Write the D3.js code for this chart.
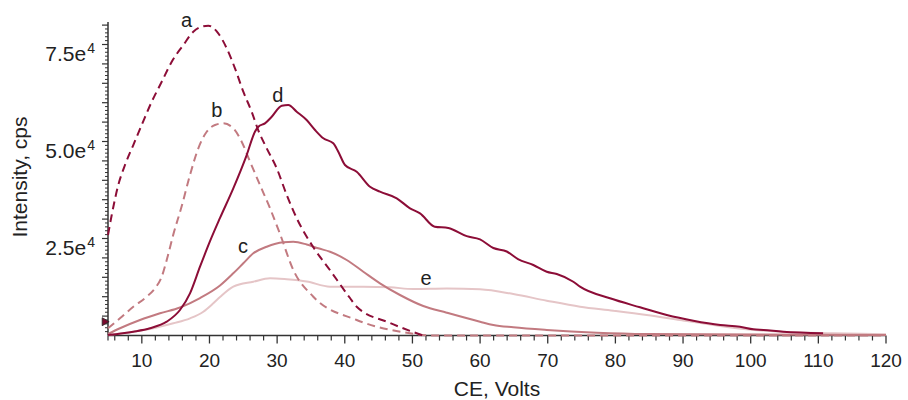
<!DOCTYPE html>
<html><head><meta charset="utf-8">
<script src="https://cdn.jsdelivr.net/npm/d3@7"></script>
<style>body{margin:0;background:#fff}svg{display:block}text{font-family:"Liberation Sans",Arial,Helvetica,sans-serif;fill:#222}</style>
</head><body><svg id="chart" width="908" height="400"></svg>
<script>
// CE (Volts) and Intensity (cps) pairs
const seriesA = [[5,25900],[5.55,31050],[6.52,38780],[7.51,43940],[8.74,49090],[9.98,54250],[11.46,60250],[12.94,65400],[14.42,70560],[16.13,74860],[17.61,78290],[18.85,79580],[19.83,79830],[21.3,77880],[22.55,74010],[23.77,68860],[25.0,62830],[26.24,57670],[27.2,52960],[28.46,48240],[29.94,43090],[31.42,36210],[32.9,30200],[35.3,22880],[37.8,16880],[40.77,9660],[41.76,7420],[46.7,3220],[51.56,0]];
const seriesB = [[5,1860],[6.77,4430],[8.74,7420],[10.72,10000],[11.95,12160],[12.94,15150],[13.68,19460],[14.65,26000],[15.89,33300],[17.12,41360],[18.35,48240],[19.59,52520],[20.82,54250],[22.04,54680],[23.52,53400],[24.76,49940],[26.0,44790],[27.47,38780],[28.95,32780],[30.43,26160],[32.39,16880],[35.35,10000],[41.76,3990],[49.64,570],[52.6,0],[120,0]];
const seriesC = [[5,390],[6.77,1860],[9.73,3990],[12.69,5720],[15.64,7220],[18.6,9660],[21.56,12890],[23.52,16030],[25.0,18610],[26.48,21180],[28.46,22880],[30.92,24020],[32.39,24150],[34.37,23450],[36.08,22470],[37.82,21600],[40.28,19460],[42.74,16440],[45.2,13450],[48.16,10440],[51.6,7600],[55.07,5880],[59.99,3560],[61.96,2710],[64.91,2110],[69.85,1420],[77.24,720],[84.63,390],[120,130]];
const seriesD = [[5,130],[8.74,980],[11.21,1860],[13.68,3560],[15.64,6570],[17.12,10870],[18.6,17730],[20.08,24300],[21.56,30300],[23.52,37930],[25.5,46510],[26.72,52520],[27.22,53810],[28.2,54680],[29.2,56380],[30.68,59220],[31.65,59400],[32.89,57670],[34.36,55530],[35.6,52960],[36.83,50820],[38.3,49530],[39.04,47370],[40.03,43940],[41.76,42210],[43.73,38350],[45.2,37060],[47.68,35360],[49.64,32780],[51.12,31490],[53.3,28040],[55.3,27700],[58.02,25600],[59.99,24790],[61.96,22550],[63.94,21650],[65.6,19710],[67.87,18170],[69.85,16440],[71.33,15850],[73.78,13860],[74.77,12580],[79.2,9590],[83.64,7270],[87.59,5280],[91.52,3810],[95.5,2710],[98.4,2270],[100.4,1600],[101.9,1420],[104.8,980],[110.7,570]];
const seriesE = [[5,130],[8.74,980],[11.7,1860],[14.65,3140],[17.12,4430],[19.09,6130],[20.57,8300],[21.56,9900],[23.52,12580],[26.48,13860],[28.95,14740],[31.42,14480],[34.37,13920],[37.82,12580],[42.74,12580],[46.69,12420],[50.13,11980],[55.07,12110],[59.99,11910],[64.91,10690],[69.85,8970],[74.77,7420],[79.7,6390],[84.63,5280],[89.55,3990],[94.47,2710],[99.4,1600],[104.3,980],[112.2,570],[120,310]];
const seriesNames = ["a","b","c","d","e"];
const labelPos = [[16.63,79500],[21.1,56300],[24.96,21260],[30.1,60260],[52.0,13010]];
const xTickValues = [10,20,30,40,50,60,70,80,90,100,110,120];
const yTickValues = [25000,50000,75000];
const yTickLabels = [["2.5e","4"],["5.0e","4"],["7.5e","4"]];
const markerPoint = [5,3560];

const dark = "#8c0d37", mid = "#c27a80", light = "#e5c5c7";
const styles = [
  {data: seriesE, color: light, dash: null},
  {data: seriesC, color: mid, dash: null},
  {data: seriesB, color: mid, dash: "8,5"},
  {data: seriesD, color: dark, dash: null},
  {data: seriesA, color: dark, dash: "8,5"}
];

const svg = d3.select("#chart");
const x = d3.scaleLinear().domain([5,120]).range([108,886]);
const y = d3.scaleLinear().domain([0,80800]).range([335.5,22]);

const axisColor = "#333";
const g = svg.append("g");
// x axis
g.append("line").attr("x1",x(5)).attr("x2",x(120)).attr("y1",y(0)).attr("y2",y(0)).attr("stroke",axisColor).attr("stroke-width",1.5);
const xMinor = d3.range(6,121,2).filter(v=>v%10!==0).concat([5]);
g.selectAll(".xmin").data(xMinor).join("line").attr("x1",d=>x(d)).attr("x2",d=>x(d)).attr("y1",y(0)).attr("y2",y(0)+5).attr("stroke",axisColor).attr("stroke-width",1.2);
g.selectAll(".xmaj").data(xTickValues).join("line").attr("x1",d=>x(d)).attr("x2",d=>x(d)).attr("y1",y(0)).attr("y2",y(0)+8).attr("stroke",axisColor).attr("stroke-width",1.3);
g.selectAll(".xlab").data(xTickValues).join("text").attr("x",d=>x(d)).attr("y",367).attr("text-anchor","middle").style("font-size","19px").text(d=>d);
// y axis
g.append("line").attr("x1",x(5)).attr("x2",x(5)).attr("y1",y(0)).attr("y2",22).attr("stroke",axisColor).attr("stroke-width",1.5);
const yMinor = d3.range(1000,80001,1000).filter(v=>v%5000!==0);
const yMajor = d3.range(5000,80001,5000);
g.selectAll(".ymin").data(yMinor).join("line").attr("x1",x(5)-3).attr("x2",x(5)).attr("y1",d=>y(d)).attr("y2",d=>y(d)).attr("stroke",axisColor).attr("stroke-width",1);
g.selectAll(".ymaj").data(yMajor).join("line").attr("x1",x(5)-6).attr("x2",x(5)).attr("y1",d=>y(d)).attr("y2",d=>y(d)).attr("stroke",axisColor).attr("stroke-width",1.2);
const yl = g.selectAll(".ylab").data(yTickValues).join("text").attr("x",95).attr("y",d=>y(d)+16).attr("text-anchor","end").style("font-size","21px");
yl.append("tspan").text((d,i)=>yTickLabels[i][0]);
yl.append("tspan").attr("dy",-8).attr("dx",1).style("font-size","14px").text((d,i)=>yTickLabels[i][1]);

// titles
svg.append("text").attr("x",497).attr("y",396).attr("text-anchor","middle").style("font-size","21px").text("CE, Volts");
svg.append("text").attr("transform","translate(27,177) rotate(-90)").attr("text-anchor","middle").style("font-size","21px").text("Intensity, cps");

// lines
const line = d3.line().x(d=>x(d[0])).y(d=>y(d[1])).curve(d3.curveMonotoneX);
styles.forEach(s=>{
  svg.append("path").attr("d",line(s.data)).attr("fill","none").attr("stroke",s.color).attr("stroke-width",2).attr("stroke-dasharray",s.dash);
});

// series labels
svg.selectAll(".slab").data(seriesNames).join("text").attr("x",(d,i)=>x(labelPos[i][0])).attr("y",(d,i)=>y(labelPos[i][1])).attr("text-anchor","middle").style("font-size","20px").text(d=>d);

// marker
svg.append("path").attr("d",d3.symbol(d3.symbolTriangle,28)()).attr("transform",`translate(${x(markerPoint[0])-3.5},${y(markerPoint[1])}) rotate(90)`).attr("fill","#7a0a2e").attr("stroke","#222").attr("stroke-width",0.8);
</script></body></html>
